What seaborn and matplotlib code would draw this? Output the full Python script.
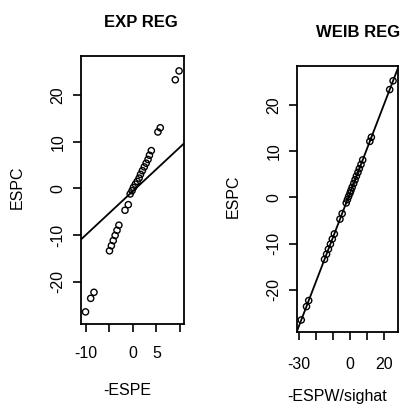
from matplotlib import pyplot as plt
import seaborn as sns
import numpy as np
import pandas as pd

# ESPC (same ordered residuals in both panels)
espc = [-26.5, -23.6, -22.3, -13.4, -12.3, -11.2, -10.1, -9.0, -7.9, -4.7, -3.5,
        -1.2, -0.5, 0.2, 0.9, 1.5, 2.2, 3.0, 3.8, 4.6, 5.4, 6.2, 7.1, 8.1,
        12.1, 13.0, 23.3, 25.2]
# -ESPE (exponential regression)
espe_neg = [-10.1, -9.0, -8.3, -5.0, -4.6, -4.2, -3.8, -3.4, -3.0, -1.7, -1.0,
            -0.6, -0.2, 0.1, 0.5, 0.9, 1.3, 1.6, 2.0, 2.4, 2.8, 3.2, 3.5, 3.9,
            5.3, 5.8, 9.0, 9.8]
# -ESPW/sighat (weibull regression)
espw_neg = [-28.5, -25.4, -24.1, -14.8, -13.6, -12.5, -11.3, -10.2, -9.0, -5.7, -4.4,
            -2.0, -1.3, -0.6, 0.2, 0.8, 1.5, 2.4, 3.2, 4.0, 4.9, 5.7, 6.7, 7.7,
            11.9, 12.8, 23.6, 25.6]
# fitted lines (intercept, slope)
exp_fit = (-0.56, 0.94)
weib_fit = (0.73, 0.956)

sns.set_style("ticks", {'axes.edgecolor': 'black', 'text.color': 'black',
                        'axes.labelcolor': 'black', 'xtick.color': 'black',
                        'ytick.color': 'black'})
plt.rcParams['font.family'] = ['Liberation Sans', 'DejaVu Sans']

fig = plt.figure(figsize=(4.07, 4.15), dpi=100)
# axes boxes in pixels: left, bottom-from-top, width, height
ax1 = fig.add_axes([81 / 407, 1 - 324 / 415, 103 / 407, 268 / 415])
ax2 = fig.add_axes([297 / 407, 1 - 332 / 415, 101 / 407, 266 / 415])

df = pd.DataFrame({'ESPC': espc, 'ESPE': espe_neg, 'ESPW': espw_neg})

panels = [
    (ax1, 'ESPE', exp_fit, 'EXP REG', '-ESPE', (-11.06, 10.85),
     [-10, -5, 0, 5, 10], ['-10', '', '0', '5', ''], 0.578, (-0.548, 0.51), (0.452, -0.22), 9.5),
    (ax2, 'ESPW', weib_fit, 'WEIB REG', '-ESPW/sighat', (-31.0, 28.5),
     [-30, -20, -10, 0, 10, 20], ['-30', '', '', '0', '', '20'], 0.609, (-0.56, 0.509), (0.40, -0.216), 12),
]

for ax, col, fit, title, xlab, xlim, xt, xtl, tx, ylc, xlc, xpad in panels:
    sns.scatterplot(data=df, x=col, y='ESPC', ax=ax, marker='o', s=20,
                    facecolor='none', edgecolor='black', linewidth=1.0)
    ax.axline((0, fit[0]), slope=fit[1], color='black', lw=1.3)
    ax.set_xlim(*xlim)
    ax.set_ylim(-29.1, 28.4)
    ax.set_xticks(xt)
    ax.set_xticklabels(xtl)
    ax.set_yticks([-20, -10, 0, 10, 20])
    ax.set_yticklabels(['-20', '-10', '0', '10', '20'], rotation=90, va='center')
    ax.tick_params(axis='both', length=6, width=1.2, labelsize=11.5, color='black')
    ax.tick_params(axis='x', pad=xpad)
    ax.tick_params(axis='y', pad=5)
    for sp in ax.spines.values():
        sp.set_visible(True)
        sp.set_linewidth(1.3)
        sp.set_color('black')
    ax.set_title(title, fontsize=12, fontweight='bold', pad=21, x=tx)
    ax.set_xlabel(xlab, fontsize=11.5)
    ax.set_ylabel('ESPC', fontsize=11.5)
    ax.yaxis.set_label_coords(*ylc)
    ax.xaxis.set_label_coords(*xlc)

fig.savefig('out.png', dpi=100)
